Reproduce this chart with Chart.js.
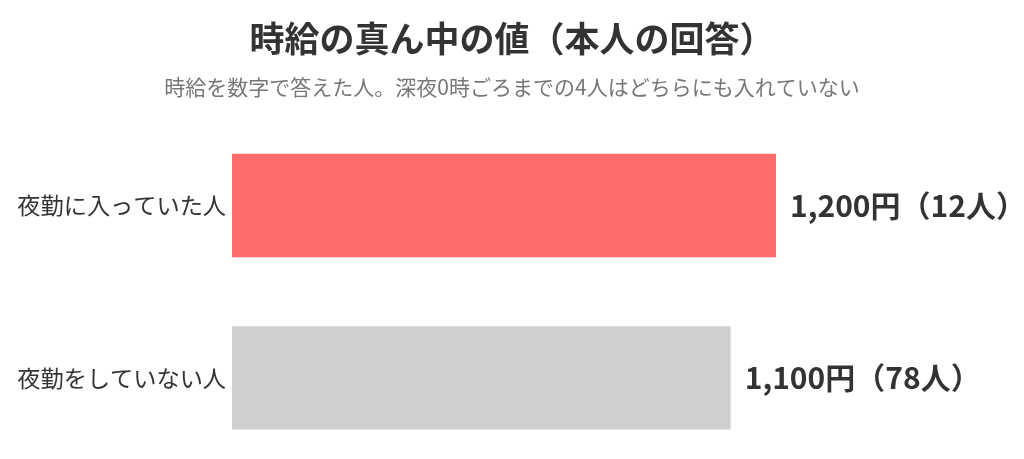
<!DOCTYPE html>
<html><head><meta charset="utf-8">
<script src="https://cdn.jsdelivr.net/npm/chart.js@4/dist/chart.umd.min.js"></script>
<style>
html,body{margin:0;padding:0;background:#fff;overflow:hidden;}
canvas{display:block;}
</style></head>
<body><canvas id="c" width="1024" height="484"></canvas>
<script>
const categories = ['夜勤に入っていた人', '夜勤をしていない人'];
const wages = [1200, 1100];
const counts = [12, 78];
const barColors = ['#ff6b6b', '#cfcfcf'];
const titleText = '時給の真ん中の値（本人の回答）';
const subtitleText = '時給を数字で答えた人。深夜0時ごろまでの4人はどちらにも入れていない';

const FONT = '"Noto Sans CJK JP", "Noto Sans", sans-serif';

const valueLabels = {
  id: 'valueLabels',
  afterDatasetsDraw(chart) {
    const ctx = chart.ctx;
    const meta = chart.getDatasetMeta(0);
    ctx.save();
    ctx.font = 'bold 30px ' + FONT;
    ctx.fillStyle = '#333';
    ctx.textBaseline = 'middle';
    ctx.textAlign = 'left';
    meta.data.forEach((bar, i) => {
      const txt = wages[i].toLocaleString('en-US') + '円（' + counts[i] + '人）';
      ctx.fillText(txt, bar.x + 14, bar.y);
    });
    ctx.restore();
  }
};

new Chart(document.getElementById('c'), {
  type: 'bar',
  data: {
    labels: categories,
    datasets: [{
      data: wages,
      backgroundColor: barColors,
      borderWidth: 0,
      categoryPercentage: 0.8,
      barPercentage: 0.75
    }]
  },
  options: {
    indexAxis: 'y',
    responsive: false,
    devicePixelRatio: 1,
    animation: false,
    layout: { padding: { left: 0, right: 0, top: 0, bottom: 0 } },
    plugins: {
      legend: { display: false },
      tooltip: { enabled: false },
      title: {
        display: true,
        text: titleText,
        color: '#333',
        font: { family: FONT, size: 35, weight: 'bold', lineHeight: 1.2 },
        padding: { top: 18, bottom: 14 }
      },
      subtitle: {
        display: true,
        text: subtitleText,
        color: '#777',
        font: { family: FONT, size: 21, lineHeight: 1.2 },
        padding: { top: 0, bottom: 20 }
      }
    },
    scales: {
      x: { display: false, min: 0, max: 1747 },
      y: {
        grid: { display: false, drawTicks: false },
        border: { display: false },
        ticks: { color: '#333', font: { family: FONT, size: 23.2 }, padding: 6 },
        afterFit(scale) { scale.width = 232; }
      }
    }
  },
  plugins: [valueLabels]
});
</script></body></html>
